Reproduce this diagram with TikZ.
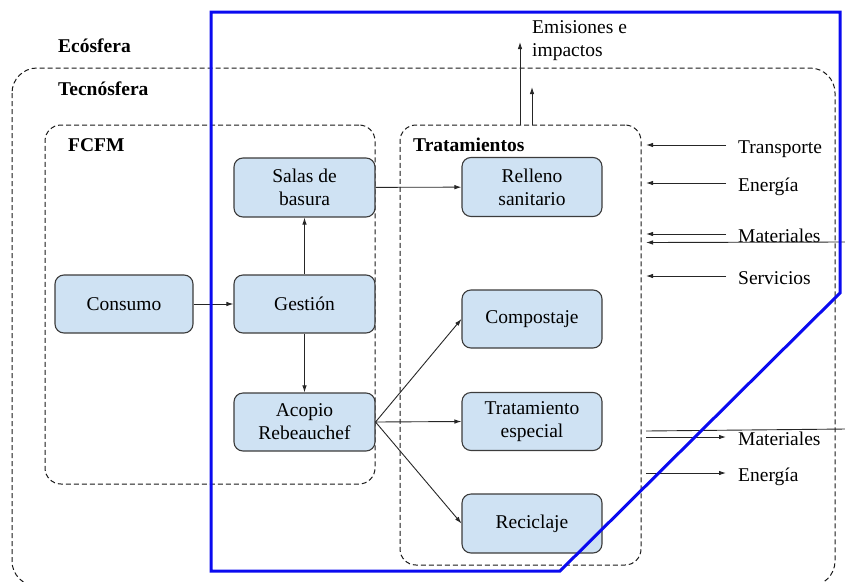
\documentclass[tikz,border=0pt]{standalone}
\usepackage{fontspec}
\setmainfont{Liberation Serif}
\usetikzlibrary{arrows.meta}
\definecolor{boxfill}{HTML}{CFE2F3}
\definecolor{boxline}{HTML}{3C3C3C}
\definecolor{frameblue}{HTML}{0A0AF0}
\tikzset{
  every node/.style={font=\fontsize{19.5}{23}\selectfont},
  procbox/.style={draw=boxline, fill=boxfill, line width=1.1pt, rounded corners=9pt,
    align=center, inner sep=0pt},
  region/.style={draw=black!90, line width=1pt, dash pattern=on 5pt off 3pt},
  flow/.style={draw=black!85, line width=0.9pt, -{Latex[length=7pt,width=4.5pt]}},
  plain/.style={draw=black!85, line width=0.9pt},
  lbl/.style={inner sep=0pt, anchor=mid west},
  title/.style={lbl, font=\fontsize{19.5}{23}\selectfont\bfseries},
}
\begin{document}
\begin{tikzpicture}[x=1pt, y=-1pt]
\clip (0,0) rectangle (845,581);
\useasboundingbox (0,0) rectangle (845,581);

% system boundaries
\draw[region, rounded corners=25pt] (12,68) rectangle (835,586);
\node[region, rounded corners=16pt, minimum width=330pt, minimum height=359pt, inner sep=0pt]
  (fcfm) at (210,304.5) {};
\node[region, rounded corners=16pt, minimum width=241pt, minimum height=440pt, inner sep=0pt]
  (trat) at (520.5,345) {};

% titles
\node[title] (eco) at (58,50.5) {Ecósfera};
\node[title] (tec) at (58,93) {Tecnósfera};
\node[title] (fcfmt) at (68,149.5) {FCFM};
\node[title] (tratt) at (413,149.5) {Tratamientos};

% process boxes
\node[procbox, minimum width=141pt, minimum height=59pt] (salas)   at (304.5,187.5) {Salas de\\basura};
\node[procbox, minimum width=138pt, minimum height=58pt] (consumo) at (124,304)     {Consumo};
\node[procbox, minimum width=141pt, minimum height=58pt] (gestion) at (304.5,304)   {Gestión};
\node[procbox, minimum width=141pt, minimum height=58pt] (acopio)  at (304.5,422)   {Acopio\\Rebeauchef};
\node[procbox, minimum width=140pt, minimum height=59pt] (relleno) at (532,187)     {Relleno\\sanitario};
\node[procbox, minimum width=140pt, minimum height=58pt] (compost) at (532,319)     {Compostaje};
\node[procbox, minimum width=140pt, minimum height=58pt] (especial) at (532,421.5)  {Tratamiento\\especial};
\node[procbox, minimum width=140pt, minimum height=59pt] (recicla) at (532,523.5)   {Reciclaje};

% internal flows
\draw[flow] (consumo) -- (gestion);
\draw[flow] (gestion) -- (salas);
\draw[flow] (gestion) -- (acopio);
\draw[flow] (salas) -- (relleno);
\draw[flow] (acopio.east) -- (compost.west);
\draw[flow] (acopio.east) -- (especial.west);
\draw[flow] (acopio.east) -- (recicla.west);

% emissions to the ecosphere
\coordinate (em1s) at (520,125);
\coordinate (em1e) at (520,42);
\coordinate (em2s) at (532,125);
\coordinate (em2e) at (532,87);
\draw[flow] (em1s) -- (em1e);
\draw[flow] (em2s) -- (em2e);
\node[inner sep=0pt, anchor=north west, align=left] (emis) at (532,20) {Emisiones e\\impactos};

% inputs from the technosphere
\foreach \y/\t/\n in {145/Transporte/tr, 183/Energía/en, 234/Materiales/ma, 276/Servicios/se}{
  \coordinate (in\n s) at (726,\y);
  \coordinate (in\n e) at (646,\y);
  \draw[flow] (in\n s) -- (in\n e);
  \node[lbl] (l\n) at (738,\y+6.5) {\t};
}
\coordinate (inxs) at (846,242);
\coordinate (inxe) at (646,242.5);
\draw[flow] (inxs) -- (inxe);

% outputs to the technosphere
\foreach \y/\t/\n in {437/Materiales/ma, 473/Energía/en}{
  \coordinate (out\n s) at (646,\y);
  \coordinate (out\n e) at (726,\y);
  \draw[flow] (out\n s) -- (out\n e);
  \node[lbl] (lo\n) at (738,\y+6.5) {\t};
}
\coordinate (outxs) at (646,431);
\coordinate (outxe) at (846,429);
\draw[plain] (outxs) -- (outxe);

% highlighted frame
\draw[frameblue, line width=3pt, line join=miter]
  (211,12) -- (840,12) -- (840,293) -- (560,571) -- (211,571) -- cycle;
\end{tikzpicture}
\end{document}
